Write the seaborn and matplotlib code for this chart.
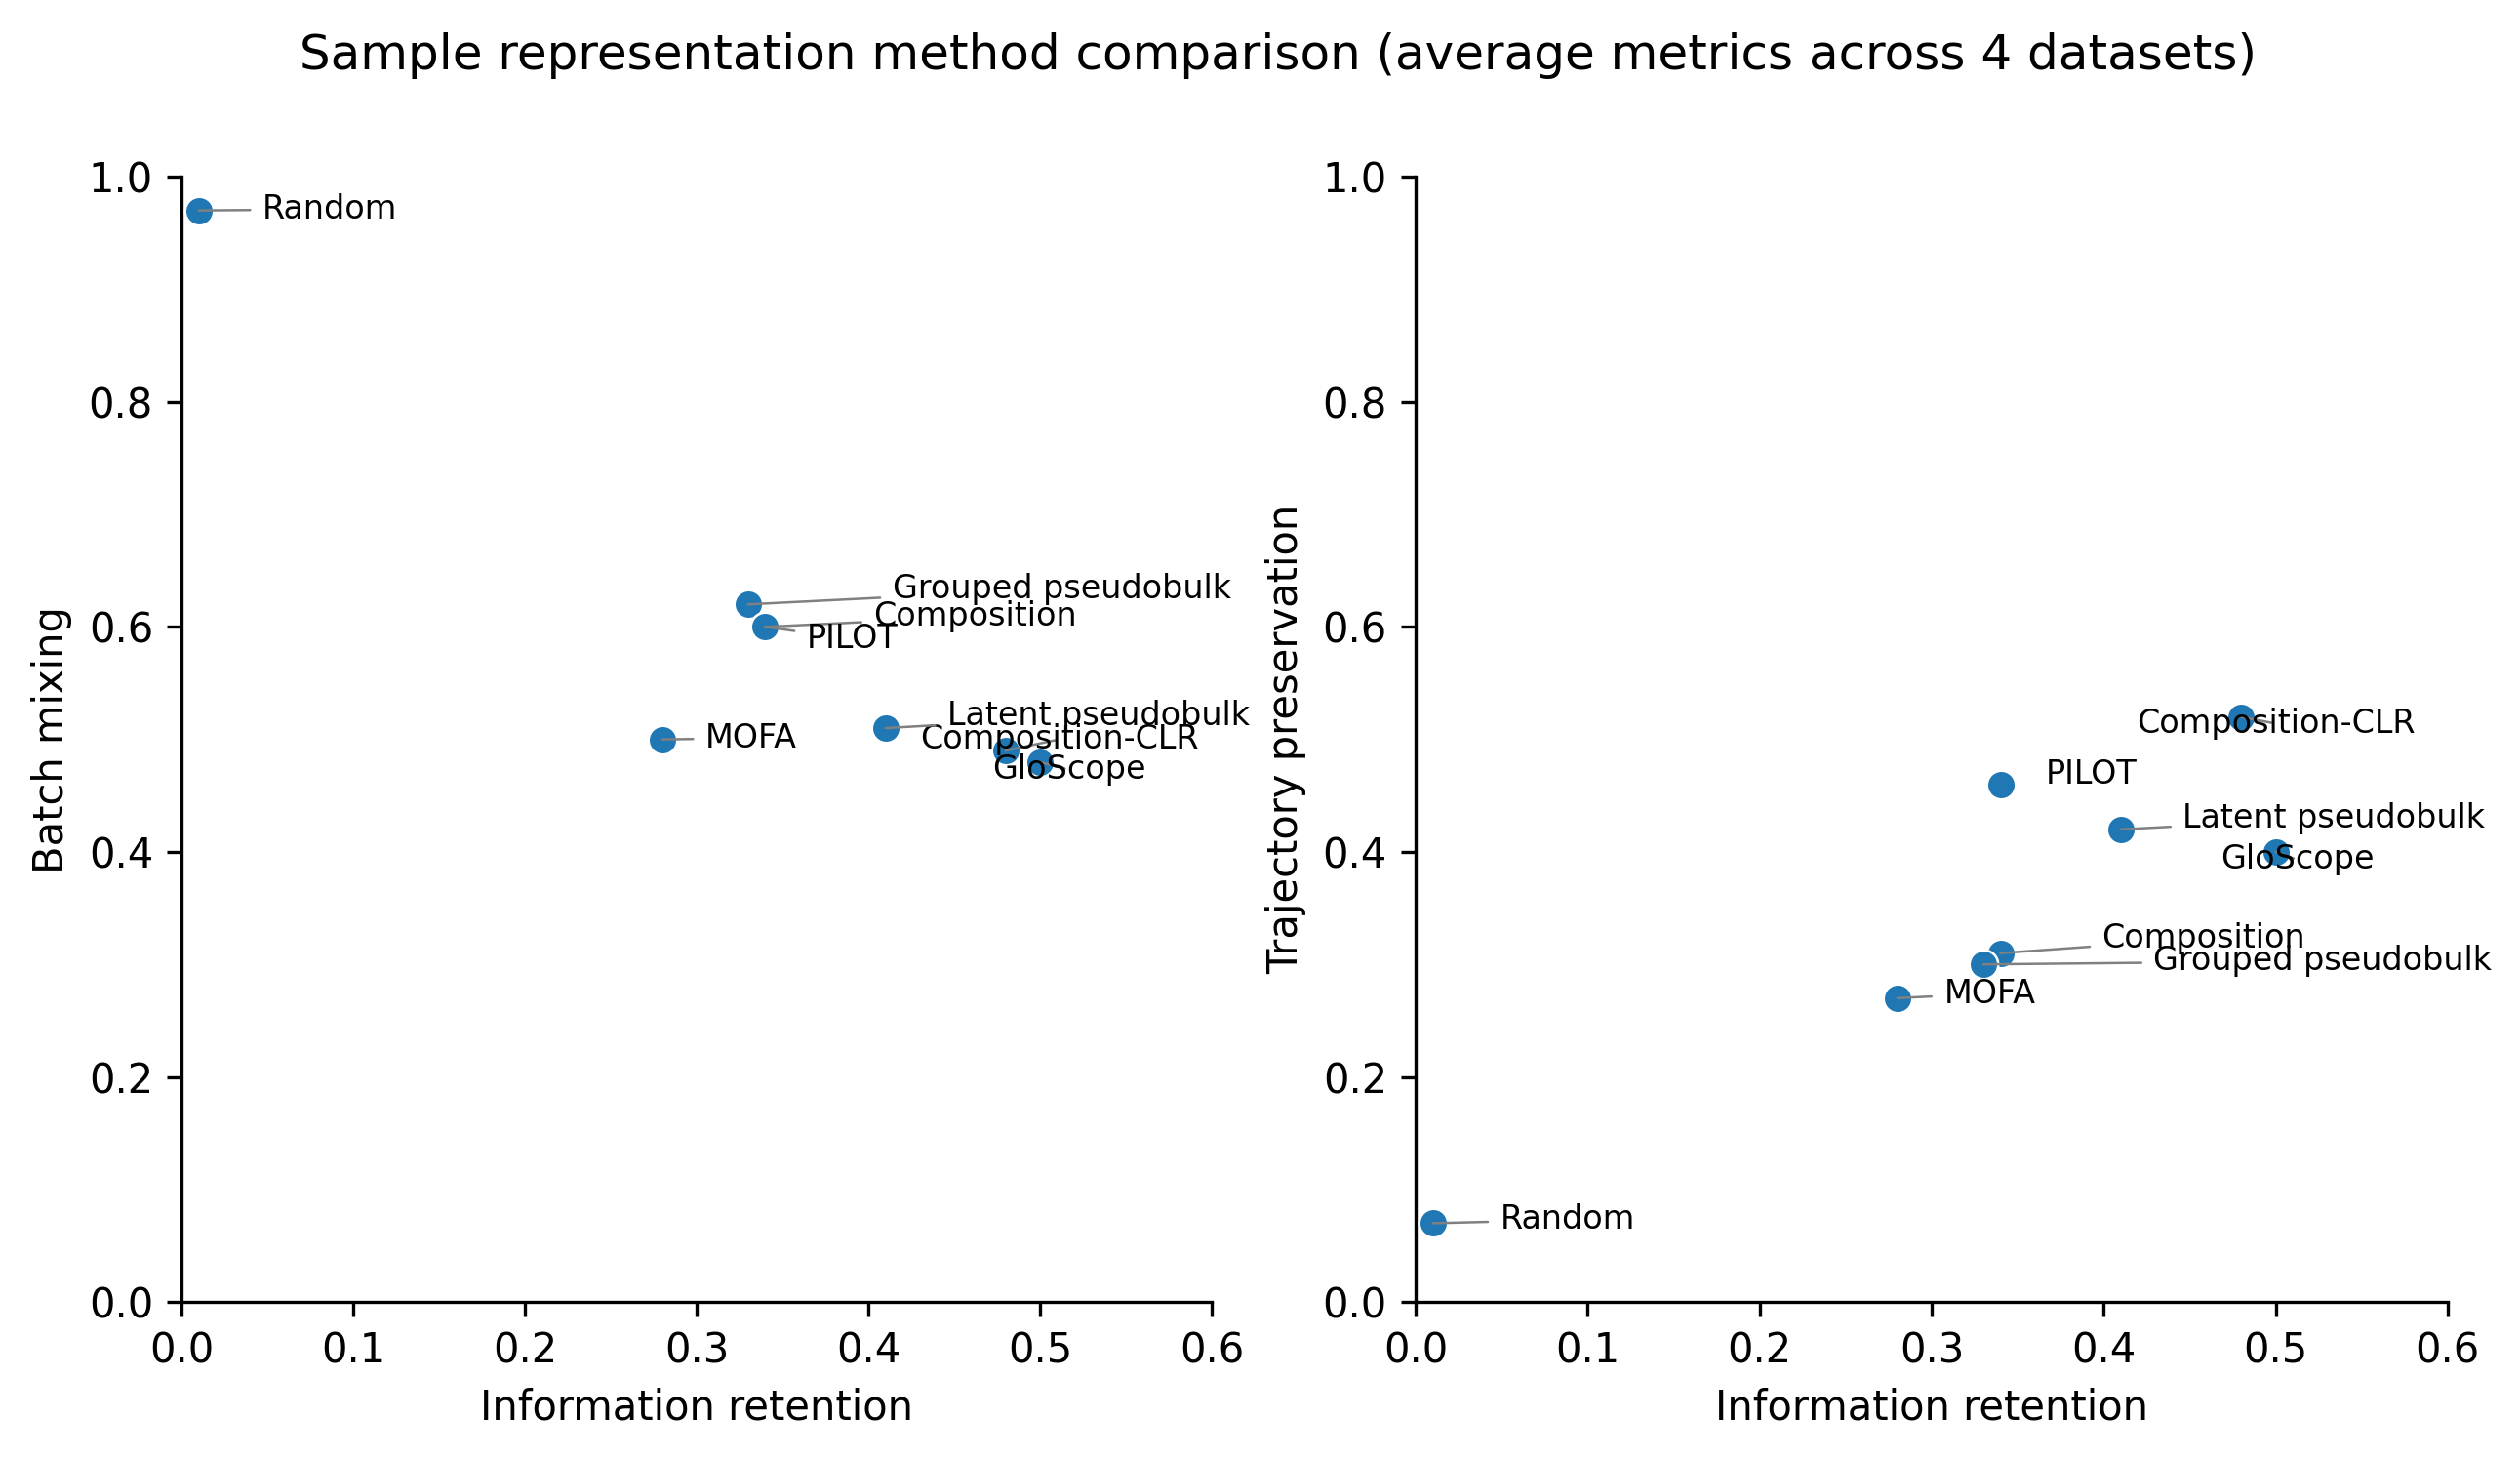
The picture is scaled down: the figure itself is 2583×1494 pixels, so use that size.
import pandas as pd
import seaborn as sns
import matplotlib.pyplot as plt

methods = ["Random", "Composition", "Composition-CLR", "Grouped pseudobulk",
           "Latent pseudobulk", "MOFA", "PILOT", "GloScope"]
info_retention = [0.01, 0.34, 0.48, 0.33, 0.41, 0.28, 0.34, 0.50]
batch_mixing = [0.97, 0.60, 0.49, 0.62, 0.51, 0.50, 0.60, 0.48]
trajectory = [0.07, 0.31, 0.52, 0.30, 0.42, 0.27, 0.46, 0.40]

df = pd.DataFrame({
    "Method": methods,
    "Information retention": info_retention,
    "Batch mixing": batch_mixing,
    "Trajectory preservation": trajectory,
})

# where the labels ended up (data coords, left edge / vertical centre)
label_pos = {
    "Batch mixing": {
        "Random": (0.047, 0.971),
        "Grouped pseudobulk": (0.414, 0.634),
        "Composition": (0.403, 0.609),
        "PILOT": (0.364, 0.589),
        "Latent pseudobulk": (0.446, 0.521),
        "Composition-CLR": (0.430, 0.500),
        "GloScope": (0.472, 0.473),
        "MOFA": (0.305, 0.501),
    },
    "Trajectory preservation": {
        "Composition-CLR": (0.419, 0.514),
        "PILOT": (0.366, 0.469),
        "Latent pseudobulk": (0.446, 0.430),
        "GloScope": (0.468, 0.393),
        "Composition": (0.399, 0.323),
        "Grouped pseudobulk": (0.429, 0.303),
        "MOFA": (0.307, 0.274),
        "Random": (0.049, 0.073),
    },
}
no_line = {("Trajectory preservation", "PILOT")}

fig = plt.figure(figsize=(2583 / 300, 1494 / 300), dpi=300)
ax1 = fig.add_axes([0.0721, 0.1070, 0.4087, 0.7718])
ax2 = fig.add_axes([0.5618, 0.1070, 0.4095, 0.7718])

for ax, metric in zip([ax1, ax2], ["Batch mixing", "Trajectory preservation"]):
    sns.scatterplot(data=df, x="Information retention", y=metric, ax=ax,
                    color="#1f77b4", s=50, edgecolor="white", linewidth=0.6, zorder=3)
    for _, row in df.iterrows():
        tx, ty = label_pos[metric][row["Method"]]
        arrow = None
        if (metric, row["Method"]) not in no_line:
            arrow = dict(arrowstyle="-", color="gray", lw=0.6, shrinkA=1, shrinkB=0)
        ax.annotate(row["Method"], xy=(row["Information retention"], row[metric]),
                    xytext=(tx, ty), textcoords="data", ha="left", va="center",
                    fontsize=8, arrowprops=arrow, zorder=4)
    ax.set_xlim(0, 0.6)
    ax.set_ylim(0, 1.0)
    ax.set_xlabel("Information retention", fontsize=10)
    ax.set_ylabel(metric, fontsize=10)
    ax.tick_params(labelsize=10)
    sns.despine(ax=ax)

fig.suptitle("Sample representation method comparison (average metrics across 4 datasets)",
             fontsize=12, x=0.507, y=0.962, va="center")

fig.savefig("out.png", dpi=300)
